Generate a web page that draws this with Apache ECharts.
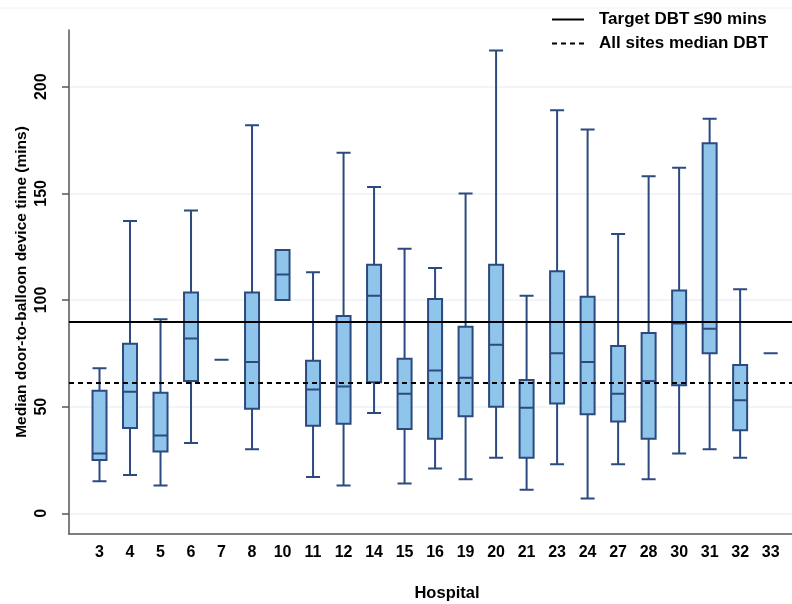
<!DOCTYPE html>
<html>
<head>
<meta charset="utf-8">
<title>Door-to-balloon device time by hospital</title>
<script src="https://cdn.jsdelivr.net/npm/echarts@6/dist/echarts.min.js"></script>
<style>
  html, body { margin: 0; padding: 0; background: #fff; }
  #chart { width: 792px; height: 604px; }
</style>
</head>
<body>
<div id="chart"></div>
<script>
// Hospitals along the x axis
const hospitals = ['3', '4', '5', '6', '7', '8', '10', '11', '12', '14', '15', '16',
  '19', '20', '21', '23', '24', '27', '28', '30', '31', '32', '33'];

// Five-number summaries per hospital (mins)
const whiskerLow  = [15, 18, 13, 33, 72, 30, 100, 17, 13, 47, 14, 21, 16, 26, 11, 23, 7, 23, 16, 28, 30, 26, 75];
const quartile1   = [25, 40, 29, 62, 72, 49, 100, 41, 42, 61.5, 39.5, 35, 45.5, 50, 26, 51.5, 46.5, 43, 35, 60, 75, 39, 75];
const medians     = [28, 57, 36.5, 82, 72, 71, 112, 58, 59.5, 102, 56, 67, 63.5, 79, 49.5, 75, 71, 56, 62, 89, 86.5, 53, 75];
const quartile3   = [57.5, 79.5, 56.5, 103.5, 72, 103.5, 123.5, 71.5, 92.5, 116.5, 72.5, 100.5, 87.5, 116.5, 62.5, 113.5, 101.5, 78.5, 84.5, 104.5, 173.5, 69.5, 75];
const whiskerHigh = [68, 137, 91, 142, 72, 182, 123.5, 113, 169, 153, 124, 115, 150, 217, 102, 189, 180, 131, 158, 162, 185, 105, 75];

// Reference levels (mins)
const targetDBT = 90;
const allSitesMedianDBT = 61;

// Y axis tick values
const yTicks = [0, 50, 100, 150, 200];

const boxData = hospitals.map((h, i) => [
  i + 1, whiskerLow[i], quartile1[i], medians[i], quartile3[i], whiskerHigh[i]
]);

const navy = '#2c4a7f';
const fontFamily = '"Liberation Sans", Arial, sans-serif';

const chart = echarts.init(document.getElementById('chart'), null, { renderer: 'canvas' });

chart.setOption({
  animation: false,
  backgroundColor: '#ffffff',
  textStyle: { fontFamily },
  grid: { left: 69, right: 0, top: 30, bottom: 70, containLabel: false, outerBoundsMode: 'none' },
  legend: {
    orient: 'vertical',
    left: 546,
    top: 6,
    itemWidth: 32,
    itemHeight: 14,
    itemGap: 7,
    selectedMode: false,
    // line-only keys: hide the point marker drawn on line-series keys
    itemStyle: { color: 'rgba(0,0,0,0)', borderColor: 'rgba(0,0,0,0)', borderWidth: 0, opacity: 0 },
    textStyle: { fontSize: 17, fontWeight: 'bold', color: '#000', fontFamily, padding: [0, 0, 0, 10] },
    data: ['Target DBT \u226490 mins', 'All sites median DBT']
  },
  xAxis: {
    type: 'value',
    min: 0,
    max: 23.7,
    interval: 1,
    name: 'Hospital',
    nameLocation: 'middle',
    nameGap: 51,
    nameMoveOverlap: false,
    nameTextStyle: { fontSize: 16.5, fontWeight: 'bold', color: '#000', padding: [0, 0, 0, 33] },
    axisLine: { show: true, onZero: false, lineStyle: { color: '#555', width: 1.5 } },
    axisTick: { show: false },
    splitLine: { show: false },
    axisLabel: {
      margin: 11,
      fontSize: 16,
      fontWeight: 'bold',
      color: '#000',
      showMinLabel: false,
      showMaxLabel: false,
      formatter: v => (Number.isInteger(v) && v >= 1 && v <= hospitals.length) ? hospitals[v - 1] : ''
    }
  },
  yAxis: {
    type: 'value',
    min: -9.7,
    max: 226.6,
    name: 'Median door-to-balloon device time (mins)',
    nameLocation: 'middle',
    nameGap: 39,
    nameMoveOverlap: false,
    nameTextStyle: { fontSize: 15.5, fontWeight: 'bold', color: '#000' },
    axisLine: { show: true, lineStyle: { color: '#555', width: 1.5 } },
    axisTick: { show: true, length: 7, customValues: yTicks, lineStyle: { color: '#555', width: 1.5 } },
    splitLine: { show: true, lineStyle: { color: '#edf2f6', width: 1.5 } },
    axisLabel: {
      customValues: yTicks,
      rotate: 90,
      margin: 19,
      fontSize: 16,
      fontWeight: 'bold',
      color: '#000'
    }
  },
  graphic: [{
    type: 'line',
    silent: true,
    shape: { x1: 0, y1: 8, x2: 792, y2: 8 },
    style: { stroke: '#eef3f5', lineWidth: 1 }
  }],
  series: [
    {
      name: 'Hospital DBT',
      type: 'boxplot',
      boxWidth: [14, 14],
      data: boxData,
      silent: true,
      itemStyle: { color: '#8fc5ea', borderColor: navy, borderWidth: 2 },
      emphasis: { disabled: true }
    },
    {
      name: 'Target DBT \u226490 mins',
      type: 'line',
      data: [],
      symbol: 'none',
      lineStyle: { color: '#000', width: 2, type: 'solid' },
      itemStyle: { color: '#000' },
      markLine: {
        silent: true,
        symbol: 'none',
        label: { show: false },
        lineStyle: { color: '#000', width: 2, type: 'solid' },
        data: [{ yAxis: targetDBT }]
      }
    },
    {
      name: 'All sites median DBT',
      type: 'line',
      data: [],
      symbol: 'none',
      lineStyle: { color: '#000', width: 2, type: [5, 4] },
      itemStyle: { color: '#000' },
      markLine: {
        silent: true,
        symbol: 'none',
        label: { show: false },
        lineStyle: { color: '#000', width: 2, type: [5, 4] },
        data: [{ yAxis: allSitesMedianDBT }]
      }
    }
  ]
});
</script>
</body>
</html>
